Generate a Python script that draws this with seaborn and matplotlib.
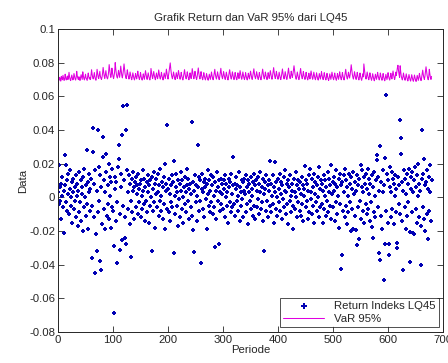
import numpy as np
import pandas as pd
import matplotlib
matplotlib.use('Agg')
import matplotlib.pyplot as plt
import seaborn as sns

# Return Indeks LQ45 (in units of 0.001)
ret_0 = [3, -4, 19, 6, -2, 8, -13, 1, 12, -6, 4, -21, 7, 25, 19, -3, 10, -8, 2, 14,
         -10, 5, 16, -5, 0, 9, -15, 3, 11, -7, 6, -2, 13, -12, 1, 8, -17, 4, -9, 15,
         -3, 10, -14, 6, 2, -20, 12, -6, 17, 0, -11, 7, 28, -4, 9, -19, 3, 14, -8, 5,
         11, -36, -5, 27, 41, -12, 8, -45, 16, -22, -32, 4, 40, -9, 18, -2, -38, 13, -43, 6,
         -16, 36, 24, -7, 10, -19, 3, 15, 26, -11, 7, -4, 20, -13, 1, 12, -18, 9, -6, 17,
         -8, -29, -69, 12, 5, -14, 9, -3, -39, 18, 23, 31, -10, -31.5, 6, 14, -25.6, 37, 54, -5,
         10, -12, -24, 40, -27.5, 16, 55, -7, 3, 13, -16, 8, -2, -35.5, 11, -9, 15, 4, -13, 6]
ret_1 = [9, 12, -6, 7, 2, -10, 14, 5, -3, 8, -12, 10, 1, -7, 16, 4, -4, 11, -14, 6,
         -2, 9, -9, 13, 3, -15, 7, -5, 10, 0, 12, -32, -8, 5, 15, -3, 8, -18, 2, 11,
         -6, 14, 3, -11, 7, -2, 17, -8, 1, 9, -13, 6, 12, -4, 20, -19, 4, 8, -7, 43,
         5, -9, 11, 2, -14, 7, -3, 13, -6, 9, -33, 21.6, 1, -10, 6, 14, -5, 3, -17, 10,
         -1, 8, -12, 15, 4, -7, 10, 0, -15, 6, 12, -4, 3, -9, 17, 7, -2, 11, -13, 5,
         8, -6, 2, 45, -11, -19.5, 9, -32.5, 4, 13, -3, 7, -14, 1, 31, 6, -8, 12, -2, 10,
         -39, 5, 14, -7, 3, 9, -12, 6, 11, -1, 8, -19, 2, 16, -5, 10, -9, 4, 13, -3,
         7, -10, 12, 1, -6, -29.4, 9, 4, -13, 15, -2, 6, 10, -28, 3, -8, 11, -4, 8, 2]
ret_2 = [-7, 10, 5, -12, 13, 0, 8, -5, 3, -15, 11, 6, -3, 9, -9, 14, 2, -6, 7, 24,
         -4, 8, -11, 5, 12, -2, 7, -8, 1, 15, -14, 6, 3, -5, 10, -1, 9, -12, 4, 11,
         2, -9, 13, 6, -4, 10, -16, 3, 8, -2, 12, -7, 5, 1, -11, 9, 14, -5, 7, -13,
         10, 4, -6, 12, -1, 8, -10, 3, 15, -7, 6, -3, 11, -14, 2, -32, 9, 5, -8, 13,
         -2, 7, -12, 4, 10, 21.5, -5, 8, -9, 1, 13, -4, 6, -15, 3, 21, -7, 9, 0, -11,
         11, 5, -3, 14, -8, 2, 9, -13, 7, -1, 12, -6, 4, 16, -10, 3, 8, -4, 10, -16,
         6, -2, 13, 1, -9, 8, 4, -5, -19, 11, 3, -7, 15, 0, -12, 7, 10, -3, 5, -8,
         9, -11, 2, 12, -4, 7, -14, 5, 1, 18.5, -6, 10, -2, 8, -13, 4, 13, -9, 17, -1,
         3, -10, 11, 6, -5, 14, -15, 2, 9, -3, 7, -8, 12, 0, -12, 18, 5, -6, 10, -4,
         8, -15, 4, 13, -7, 1, 10, -11, 6, -2, 15, -9, 3, 11, -5, 7, 19, -13, 2, 9]
ret_3 = [-6, 12, 4, -14, 8, -3, 16, -10, 6, 1, -18, 11, -4, 14, 7, -42.5, -34.5, 9, -8, 13,
         3, -12, 17, -5, 10, -16, 6, 1, -9, 14, -3, 8, -20, 12, 5, -7, 15, -18.6, 2, -11,
         9, -19.5, 4, 13, -28.6, 7, -6, -24.6, 11, -2, 19, -13, 6, 16, -8, 3, 12, -15, 8, -4,
         14, -10, 5, 17, -7, 2, 11, -14, 8, -3, -17.7, 13, -24, 6, -9, 15, 1, -12, 10, 25,
         22, -6, 12, 4, -33, -37, 30.5, 9, -11, -19, 16, 3, -49, 7, 23.6, -28, 61, -8, 14, -15,
         10, -28, -34.5, 6, 18, -12, 3, 15, -7, 11, -16, 8, 1, 13, -9, 5, -27, -30, 12, -4,
         7, 46, -10, 35, 26, -14, 9, 4, -43, 16, -6, 11, -19, 2, 14, -11, 8, -3, 17, -38.5,
         -20.5, 12, 5, -9, 15, -21, 3, 10, -22, 18, -7, 6, 13, -15, 1, 20, -12, 8, 4, -17,
         -40.5, 40, 11, -6, 14, -13, 23, 7, -20, 9, 16, -10, -25, 5, 12, -8, 19, 3, -14, 10]

# VaR 95% (in units of 0.0001)
var_0 = [530, 700, 695, 712, 703, 690, 718, 706, 698, 724, 709, 694, 701, 731, 712, 697, 705, 720, 699, 712,
         742, 715, 700, 693, 708, 726, 711, 697, 703, 735, 718, 704, 696, 712, 748, 721, 707, 699, 716, 703,
         694, 710, 728, 713, 700, 745, 722, 705, 697, 714, 731, 709, 701, 694, 719, 738, 716, 702, 711, 699,
         725, 757, 730, 712, 703, 718, 741, 716, 701, 695, 722, 760, 734, 713, 705, 727, 748, 719, 707, 700,
         714, 736, 771, 742, 718, 706, 729, 752, 724, 710, 703, 719, 745, 788, 755, 728, 712, 731, 767, 739,
         718, 705, 723, 748, 800, 762, 733, 716, 708, 727, 754, 731, 712, 741, 779, 748, 722, 709, 731, 758,
         792, 760, 731, 714, 705, 728, 757, 734, 716, 702, 719, 744, 726, 709, 698, 715, 739, 721, 706, 697,
         713, 735, 717, 703, 722, 749, 727, 710, 699, 716, 741, 719, 704, 696, 711, 733, 715, 701, 724, 752,
         730, 712, 700, 718, 739, 720, 706, 697, 714, 765, 741, 719, 705, 726, 747, 725, 709, 698, 717, 738,
         719, 704, 723, 756, 733, 713, 702, 719, 742, 722, 707, 697, 716, 738, 720, 705, 728, 761, 737, 716]
var_1 = [702, 726, 749, 771, 798, 762, 735, 715, 704, 721, 744, 724, 708, 699, 717, 740, 719, 705, 729, 753,
         731, 712, 701, 718, 742, 722, 707, 697, 713, 736, 758, 733, 714, 703, 720, 745, 724, 709, 698, 716,
         739, 719, 705, 727, 764, 741, 718, 704, 722, 748, 726, 710, 700, 717, 743, 768, 737, 715, 703, 721,
         746, 725, 709, 698, 716, 740, 721, 706, 697, 713, 735, 718, 702, 695, 710, 731, 714, 700, 719, 744,
         723, 707, 698, 715, 738, 760, 732, 713, 702, 720, 745, 726, 709, 699, 716, 741, 766, 737, 716, 704,
         722, 747, 727, 710, 700, 718, 743, 723, 707, 697, 714, 738, 757, 733, 713, 702, 720, 745, 725, 709,
         699, 717, 741, 722, 707, 698, 715, 739, 720, 705, 727, 752, 730, 712, 701, 719, 744, 724, 708, 699,
         716, 740, 721, 706, 697, 714, 737, 718, 703, 725, 749, 728, 711, 700, 718, 742, 763, 736, 715, 704,
         721, 746, 726, 710, 700, 717, 741, 722, 707, 698, 715, 738, 761, 735, 714, 703, 720, 744, 724, 709,
         699, 716, 740, 721, 706, 727, 752, 730, 712, 701, 719, 745, 770, 741, 718, 705, 723, 748, 727, 711]
var_2 = [701, 718, 743, 724, 708, 699, 716, 739, 762, 735, 714, 703, 720, 746, 726, 710, 700, 717, 742, 767,
         738, 716, 705, 723, 749, 727, 711, 730, 756, 781, 752, 728, 712, 701, 719, 744, 724, 708, 699, 716,
         740, 765, 737, 716, 704, 722, 747, 726, 710, 700, 717, 742, 722, 707, 697, 714, 737, 718, 703, 725,
         750, 729, 712, 701, 718, 743, 723, 707, 698, 715, 739, 720, 705, 696, 712, 735, 717, 702, 721, 746,
         725, 709, 699, 716, 740, 721, 706, 697, 713, 736, 717, 702, 694, 710, 733, 715, 700, 719, 743, 723,
         707, 698, 715, 738, 719, 704, 695, 712, 735, 716, 701, 720, 745, 724, 708, 698, 716, 741, 721, 706,
         697, 714, 737, 760, 733, 713, 702, 719, 743, 723, 708, 727, 753, 787, 757, 731, 713, 702, 720, 746,
         726, 710, 700, 718, 742, 722, 707, 697, 714, 738, 719, 704, 695, 711, 733, 715, 792, 760, 732, 713,
         702, 719, 744, 724, 708, 698, 715, 739, 720, 705, 695, 712, 734, 716, 701, 692, 709, 731, 714, 700,
         718, 742, 722, 707, 697, 714, 738, 719, 704, 695, 712, 735, 716, 701, 692, 708, 730, 713, 699, 716,
         740, 720, 705, 696, 713, 737, 718, 703, 725, 750, 728, 711, 700, 718, 743, 723, 745, 770, 784, 752,
         728, 712, 781, 745, 720, 706, 697, 714, 738, 719, 704, 695, 711, 733, 715, 700, 691, 708, 729, 712,
         698, 690, 707, 728, 711, 697, 689, 705, 726, 709, 695, 688, 704, 724, 708, 694, 712, 736, 717, 702,
         693, 710, 733, 755, 729, 711, 700, 718, 744, 775, 748, 724, 708, 698, 716, 760, 732, 712, 700, 718]

x_ticks = [0, 100, 200, 300, 400, 500, 600, 700]
y_ticks = [-0.08, -0.06, -0.04, -0.02, 0, 0.02, 0.04, 0.06, 0.08, 0.1]
y_labels = ['-0.08', '-0.06', '-0.04', '-0.02', '0', '0.02', '0.04', '0.06', '0.08', '0.1']

ret = np.array(ret_0 + ret_1 + ret_2 + ret_3) / 1000
var = np.array(var_0 + var_1 + var_2) / 10000
df = pd.DataFrame({'Periode': np.arange(len(ret)), 'Return': ret, 'VaR': var})

sns.set_style('ticks')
plt.rcParams['font.family'] = ['Liberation Sans', 'DejaVu Sans']
fs = 8.2

fig = plt.figure(figsize=(4.48, 3.63), dpi=100)
ax = fig.add_axes([0.1295, 0.0854, 0.8595, 0.835])

sns.scatterplot(data=df, x='Periode', y='Return', ax=ax, marker='P', s=10,
                color='#0000b4', linewidth=0, label='Return Indeks LQ45')
sns.lineplot(data=df, x='Periode', y='VaR', ax=ax, color='#e000e0', linewidth=0.75,
             label='VaR 95%')

ax.set_xlim(0, 700)
ax.set_ylim(-0.08, 0.1)
ax.set_xticks(x_ticks)
ax.set_yticks(y_ticks)
ax.set_yticklabels(y_labels)
ax.tick_params(direction='in', top=True, right=True, length=4, width=0.6,
               labelsize=fs, pad=2)
for s in ax.spines.values():
    s.set_linewidth(0.7)
ax.set_title('Grafik Return dan VaR 95% dari LQ45', fontsize=fs, pad=6)
ax.set_xlabel('Periode', fontsize=fs, labelpad=0)
ax.set_ylabel('Data', fontsize=fs, labelpad=1)

leg = ax.legend(loc='lower right', frameon=True, fancybox=False, fontsize=fs,
                borderaxespad=0.4, handlelength=3.6, edgecolor='black',
                borderpad=0.3, labelspacing=0.25, markerscale=1.2)
leg.get_frame().set_linewidth(0.6)
for h in leg.get_lines():
    h.set_linewidth(0.75)

fig.savefig('out.png', dpi=100, facecolor='white')
